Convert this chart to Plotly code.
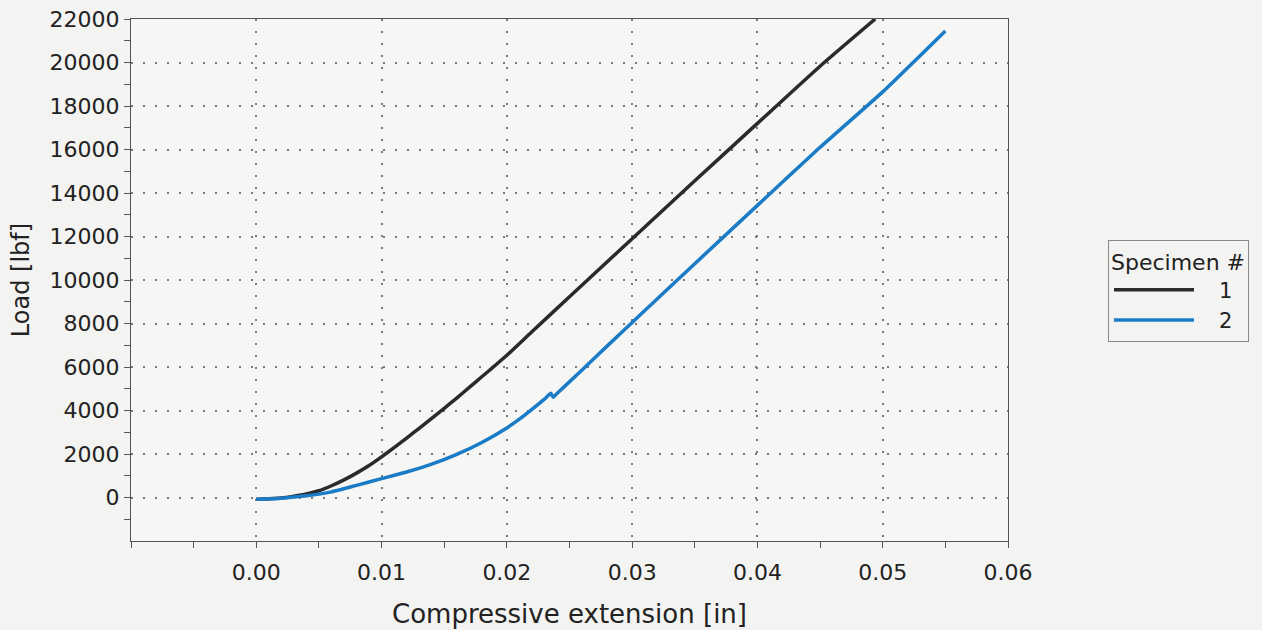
import plotly.graph_objects as go

# Specimen 1 (black)
x1 = [0.000, 0.002, 0.003, 0.004, 0.005, 0.006, 0.007, 0.008, 0.009, 0.010, 0.011, 0.012,
      0.013, 0.014, 0.015, 0.016, 0.017, 0.018, 0.019, 0.020, 0.022, 0.025, 0.030,
      0.035, 0.040, 0.045, 0.0494]
y1 = [-80, -20, 60, 160, 310, 540, 810, 1120, 1470, 1870, 2290, 2730,
      3180, 3640, 4100, 4570, 5060, 5550, 6040, 6540, 7620, 9230, 11900,
      14560, 17200, 19830, 22000]

# Specimen 2 (blue)
x2 = [0.000, 0.002, 0.004, 0.006, 0.008, 0.010, 0.012, 0.014, 0.016, 0.018, 0.020,
      0.021, 0.022, 0.023, 0.0235, 0.0237, 0.024, 0.026, 0.028, 0.030, 0.0321,
      0.035, 0.040, 0.045, 0.050, 0.055]
y2 = [-80, -30, 80, 260, 560, 870, 1170, 1530, 1980, 2530, 3200,
      3600, 4050, 4520, 4790, 4610, 4780, 5860, 6960, 8050, 9180,
      10750, 13430, 16100, 18650, 21450]

x_tickvals = [-0.01, 0.00, 0.01, 0.02, 0.03, 0.04, 0.05, 0.06]
x_ticktext = ["", "0.00", "0.01", "0.02", "0.03", "0.04", "0.05", "0.06"]
x_minor = [-0.005, 0.005, 0.015, 0.025, 0.035, 0.045, 0.055]
y_tickvals = [0, 2000, 4000, 6000, 8000, 10000, 12000, 14000, 16000, 18000, 20000, 22000]
y_ticktext = [str(v) for v in y_tickvals]
y_minor = [-1000, 1000, 3000, 5000, 7000, 9000, 11000, 13000, 15000, 17000, 19000, 21000]

FONT = "DejaVu Sans"
NB = "\u00a0"

fig = go.Figure()
fig.add_trace(go.Scatter(x=x1, y=y1, mode="lines", name=NB * 3 + "1",
                         line=dict(color="#2a2a2c", width=3.5, shape="spline", smoothing=0.6)))
fig.add_trace(go.Scatter(x=x2, y=y2, mode="lines", name=NB * 3 + "2",
                         line=dict(color="#1a7bc6", width=3.5, shape="spline", smoothing=0.4)))

axis_common = dict(
    showline=True, linecolor="#555555", linewidth=1, mirror=True,
    ticks="outside", ticklen=6, tickcolor="#555555", tickwidth=1,
    showgrid=True, gridcolor="#7a7a7a", gridwidth=1.6, griddash="2px,10px",
    zeroline=False, automargin=False,
    tickfont=dict(family=FONT, size=22, color="#222222"),
)

fig.update_xaxes(
    range=[-0.01, 0.06], tickmode="array", tickvals=x_tickvals, ticktext=x_ticktext,
    minor=dict(tickmode="array", tickvals=x_minor, ticks="outside", ticklen=6,
               tickcolor="#555555", showgrid=False),
    title=dict(text="Compressive extension [in]", font=dict(family=FONT, size=26, color="#222222"),
               standoff=20),
    ticklabelstandoff=6,
    **axis_common,
)
fig.update_yaxes(
    range=[-2000, 22000], tickmode="array", tickvals=y_tickvals, ticktext=y_ticktext,
    minor=dict(tickmode="array", tickvals=y_minor, ticks="outside", ticklen=6,
               tickcolor="#555555", showgrid=False),
    title=dict(text="Load [lbf]", font=dict(family=FONT, size=24, color="#222222"),
               standoff=13),
    **axis_common,
)

fig.update_layout(
    width=1262, height=630,
    margin=dict(l=131, r=254, t=19, b=89, autoexpand=False),
    paper_bgcolor="#f3f3f1", plot_bgcolor="#f6f6f4",
    font=dict(family=FONT, size=20, color="#222222"),
    showlegend=True,
    legend=dict(
        title=dict(text="Specimen #", font=dict(family=FONT, size=22, color="#222222")),
        xref="container", yref="container",
        x=1108 / 1262, y=1 - 240 / 630, xanchor="left", yanchor="top",
        bordercolor="#888888", borderwidth=1, bgcolor="rgba(0,0,0,0)",
        font=dict(family=FONT, size=21, color="#222222"),
        tracegroupgap=0, itemwidth=80,
    ),
)

fig.write_html("out.html", config={"displayModeBar": False},
               post_script="document.body.style.margin='0';document.body.style.overflow='hidden';")
